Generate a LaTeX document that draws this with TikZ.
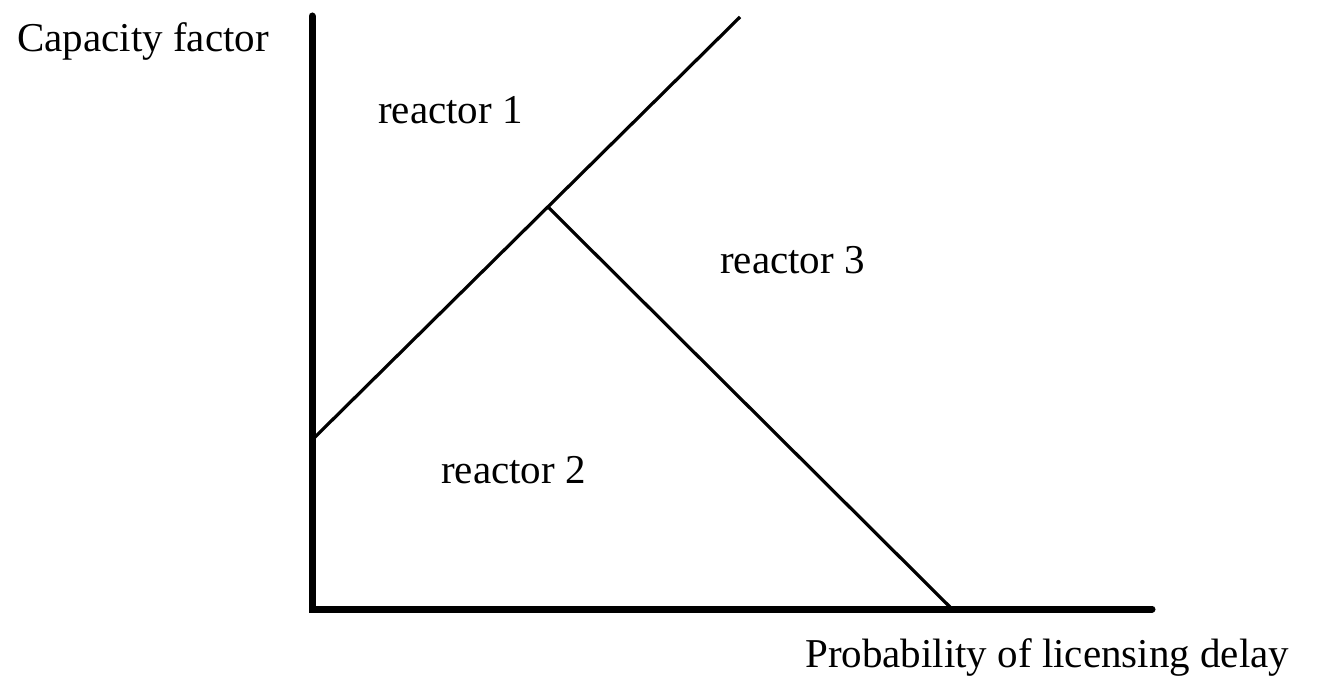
\documentclass[tikz,border=0pt]{standalone}
\usepackage{fontspec}
\setmainfont{Liberation Serif}
\begin{document}
\begin{tikzpicture}[x=1pt,y=-1pt,
  axisline/.style={line width=7pt,line cap=round,line join=miter},
  boundary/.style={line width=3.2pt},
  lbl/.style={inner sep=0pt,anchor=base west,font=\fontsize{41}{48}\selectfont}]
\useasboundingbox (0,0) rectangle (1317,679);
\fill[white] (0,0) rectangle (1317,679);
% axes
\coordinate (ytop) at (312,16);
\coordinate (origin) at (312,609);
\coordinate (xend) at (1152,609);
\draw[axisline] (ytop) -- (origin) -- (xend);
% region boundaries
\coordinate (d1start) at (312,440);
\coordinate (d1end) at (740,17);
\coordinate (junction) at (548,207);
\coordinate (d2end) at (950,607);
\draw[boundary] (d1start) -- (d1end);
\draw[boundary] (junction) -- (d2end);
% labels
\node[lbl] (ylabel) at (17,52) {Capacity factor};
\node[lbl] (xlabel) at (805,667) {Probability of licensing delay};
\node[lbl] (r1) at (378,124) {reactor 1};
\node[lbl] (r3) at (720,273) {reactor 3};
\node[lbl] (r2) at (441,483) {reactor 2};
\end{tikzpicture}
\end{document}
